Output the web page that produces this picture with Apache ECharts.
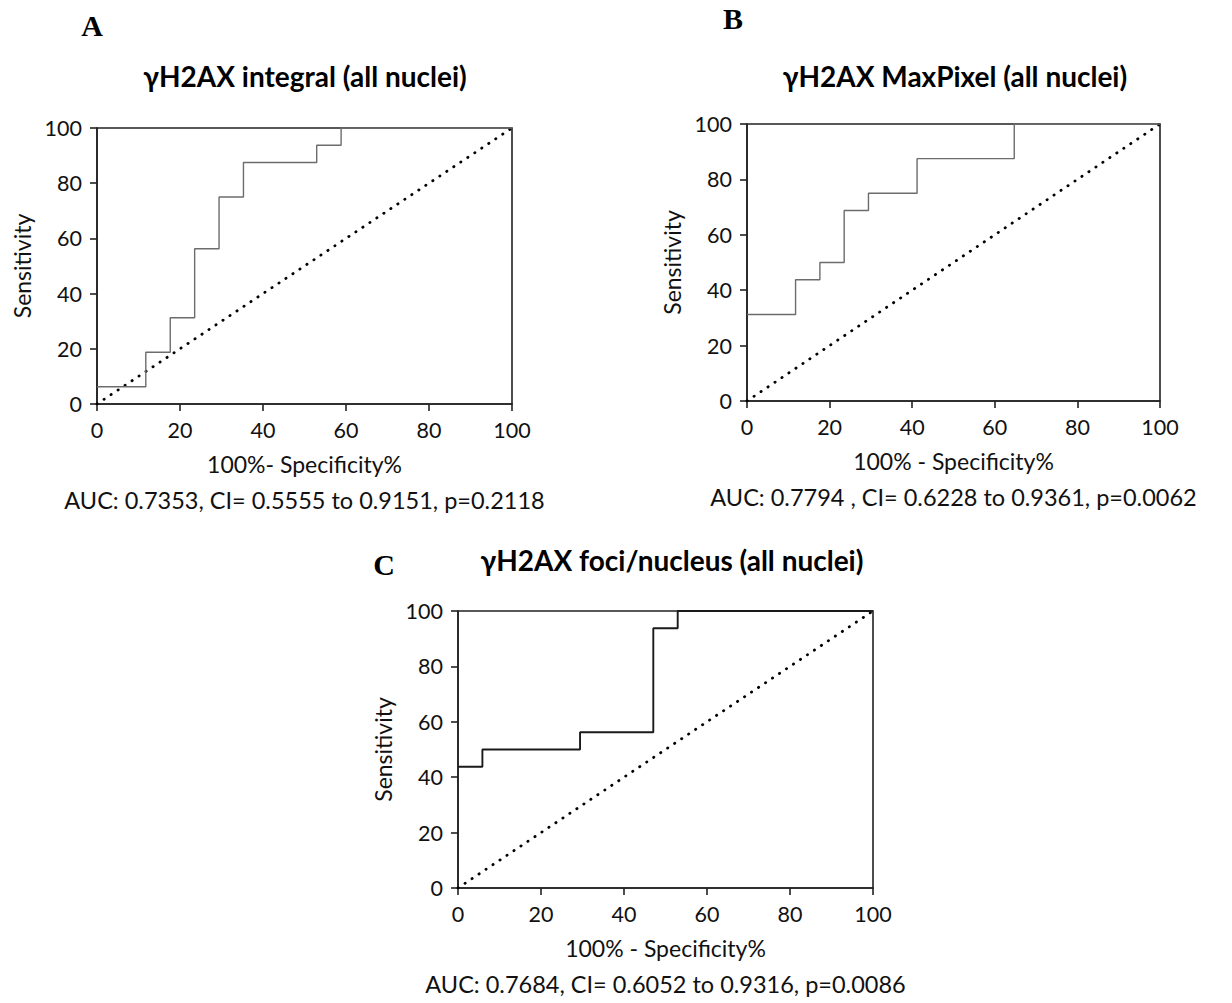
<!DOCTYPE html>
<html>
<head>
<meta charset="utf-8">
<script src="https://cdn.jsdelivr.net/npm/echarts@6/dist/echarts.min.js"></script>
<style>
html,body{margin:0;padding:0;background:#fff;}
#chart{width:1232px;height:1003px;}
</style>
</head>
<body>
<div id="chart"></div>
<script>
// ---- Data ----
const tickValues = [0, 20, 40, 60, 80, 100];
// Panel A: gamma-H2AX integral (all nuclei) ROC corners (100%-Specificity%, Sensitivity%)
const rocAX = [0, 11.76, 17.65, 23.53, 29.41, 35.29, 52.94, 58.82, 100];
const rocAY = [6.25, 18.75, 31.25, 56.25, 75, 87.5, 93.75, 100, 100];
// Panel B: gamma-H2AX MaxPixel (all nuclei)
const rocBX = [0, 11.76, 17.65, 23.53, 29.41, 41.18, 64.71, 100];
const rocBY = [31.25, 43.75, 50, 68.75, 75, 87.5, 100, 100];
// Panel C: gamma-H2AX foci/nucleus (all nuclei)
const rocCX = [0, 5.88, 29.41, 47.06, 52.94, 100];
const rocCY = [43.75, 50, 56.25, 93.75, 100, 100];
// Reference (chance) line
const chanceX = [0, 100];
const chanceY = [0, 100];

const panelLetters = ['A', 'B', 'C'];
const panelTitles = ['γH2AX integral (all nuclei)', 'γH2AX MaxPixel (all nuclei)', 'γH2AX foci/nucleus (all nuclei)'];
const xNames = ['100%- Specificity%', '100% - Specificity%', '100% - Specificity%'];
const yName = 'Sensitivity';
const aucTexts = [
  'AUC: 0.7353, CI= 0.5555 to 0.9151, p=0.2118',
  'AUC: 0.7794 , CI= 0.6228 to 0.9361, p=0.0062',
  'AUC: 0.7684, CI= 0.6052 to 0.9316, p=0.0086'
];

// ---- Layout ----
const grids = [
  {left: 97, top: 128, width: 415, height: 276},
  {left: 747, top: 124, width: 413, height: 277},
  {left: 458, top: 611, width: 415, height: 277}
];
const letterPos = [[92, 25], [733, 18], [384, 564]];
const titlePos = [[305, 76], [955, 76], [672, 560]];
const rocColors = ['#6c6c6c', '#6c6c6c', '#1a1a1a'];
const rocWidths = [1.4, 1.4, 1.9];
const SANS = 'Lato, "Open Sans", sans-serif';

const zip = (xs, ys) => xs.map((x, i) => [x, ys[i]]);
const rocData = [zip(rocAX, rocAY), zip(rocBX, rocBY), zip(rocCX, rocCY)];

const xAxes = [], yAxes = [], series = [], graphics = [];
grids.forEach((g, i) => {
  const axisCommon = {
    type: 'value', min: 0, max: 100, interval: 20, gridIndex: i,
    splitLine: {show: false},
    axisLine: {show: true, onZero: false, lineStyle: {color: '#222', width: 1.6}},
    axisTick: {show: true, length: 7, lineStyle: {color: '#222', width: 1.6}},
    axisLabel: {color: '#111', fontFamily: SANS, fontSize: 21.5, margin: 15,
      formatter: v => tickValues.indexOf(v) >= 0 ? String(v) : ''},
    nameTextStyle: {color: '#111', fontFamily: SANS, fontSize: 23},
    nameLocation: 'middle'
  };
  xAxes.push(Object.assign({}, axisCommon, {name: xNames[i], nameGap: 48}));
  yAxes.push(Object.assign({}, axisCommon, {name: yName, nameGap: 64}));
  series.push({
    type: 'line', xAxisIndex: i, yAxisIndex: i, data: zip(chanceX, chanceY),
    symbol: 'none', silent: true,
    lineStyle: {color: '#000', width: 2.8, type: [0.3, 8.1], cap: 'round'}
  });
  series.push({
    type: 'line', xAxisIndex: i, yAxisIndex: i, data: rocData[i], step: 'end',
    symbol: 'none', silent: true,
    lineStyle: {color: rocColors[i], width: rocWidths[i]}
  });
  graphics.push({type: 'text', x: letterPos[i][0], y: letterPos[i][1],
    style: {text: panelLetters[i], font: 'bold 30px "Liberation Serif", serif', fill: '#000',
      textAlign: 'center', textVerticalAlign: 'middle', align: 'center', verticalAlign: 'middle'}});
  graphics.push({type: 'text', x: titlePos[i][0], y: titlePos[i][1],
    style: {text: panelTitles[i], font: 'bold 28px ' + SANS, fill: '#000',
      textAlign: 'center', textVerticalAlign: 'middle', align: 'center', verticalAlign: 'middle'}});
  graphics.push({type: 'text', x: g.left + g.width / 2, y: g.top + g.height + 96,
    style: {text: aucTexts[i], font: '23.5px ' + SANS, fill: '#111',
      textAlign: 'center', textVerticalAlign: 'middle', align: 'center', verticalAlign: 'middle'}});
});

const chart = echarts.init(document.getElementById('chart'), null, {renderer: 'svg'});
chart.setOption({
  animation: false,
  backgroundColor: '#fff',
  grid: grids.map(g => Object.assign({show: true, borderColor: '#222', borderWidth: 1.6, backgroundColor: 'transparent', containLabel: false}, g)),
  xAxis: xAxes,
  yAxis: yAxes,
  series: series,
  graphic: graphics
});
</script>
</body>
</html>
